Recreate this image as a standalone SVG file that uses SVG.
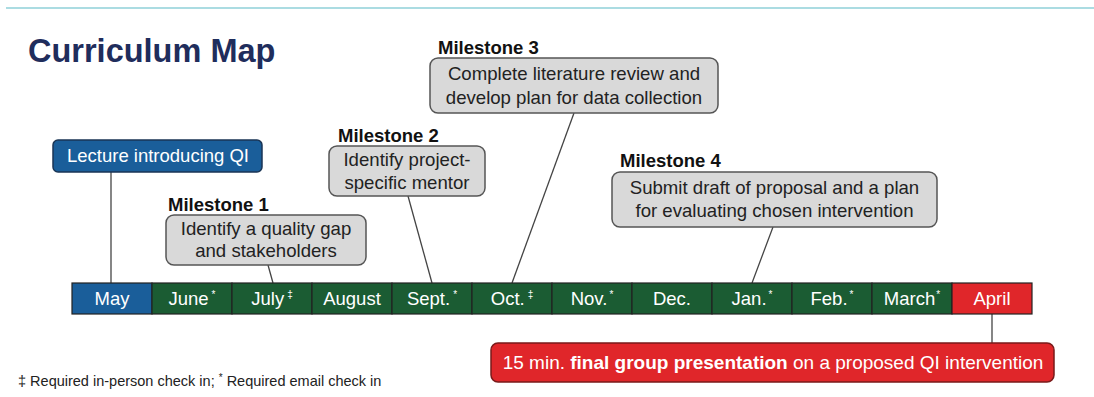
<svg xmlns="http://www.w3.org/2000/svg" width="1094" height="397" viewBox="0 0 1094 397">
<style>
  text { font-family: "Liberation Sans", Arial, sans-serif; }
  .title { font-size: 32.5px; font-weight: bold; fill: #1f2d5c; }
  .ms { font-size: 18.5px; font-weight: bold; fill: #111; }
  .gbox { fill: #d9d9d9; stroke: #555; stroke-width: 1.5; }
  .gtxt { font-size: 18.6px; fill: #222; text-anchor: middle; }
  .cell { stroke: #222; stroke-width: 1.2; }
  .blue { fill: #1a5e9a; }
  .green { fill: #1b5c33; }
  .red { fill: #e0262a; }
  .mtxt { font-size: 18.5px; fill: #fff; text-anchor: middle; }
  .sup { font-size: 10px; }
  .conn { stroke: #444; stroke-width: 1.3; fill: none; }
  .foot { font-size: 14.5px; fill: #222; }
</style>
<line x1="6" y1="8" x2="1094" y2="8" stroke="#8fd0d8" stroke-width="1.5"/>
<text class="title" x="28" y="62">Curriculum Map</text>

<g id="connectors">
  <line class="conn" x1="111" y1="172" x2="111" y2="283"/>
  <line class="conn" x1="268" y1="265" x2="273" y2="283"/>
  <line class="conn" x1="408" y1="196" x2="432" y2="283"/>
  <line class="conn" x1="574" y1="113" x2="512" y2="283"/>
  <line class="conn" x1="773" y1="227" x2="752" y2="283"/>
  <line class="conn" x1="992" y1="314" x2="992" y2="343"/>
</g>

<g id="lecture">
  <rect x="53" y="140" width="209" height="32" rx="5" class="blue" stroke="#1a3555" stroke-width="1.5"/>
  <text class="mtxt" x="158" y="162">Lecture introducing QI</text>
</g>

<g id="milestone1">
  <text class="ms" x="168" y="211">Milestone 1</text>
  <rect class="gbox" x="166" y="215" width="200" height="50" rx="8"/>
  <text class="gtxt" x="266" y="235">Identify a quality gap</text>
  <text class="gtxt" x="266" y="257">and stakeholders</text>
</g>

<g id="milestone2">
  <text class="ms" x="338" y="142">Milestone 2</text>
  <rect class="gbox" x="329" y="146" width="156" height="50" rx="8"/>
  <text class="gtxt" x="407" y="166">Identify project-</text>
  <text class="gtxt" x="407" y="189">specific mentor</text>
</g>

<g id="milestone3">
  <text class="ms" x="438" y="54">Milestone 3</text>
  <rect class="gbox" x="430" y="58" width="288" height="55" rx="8"/>
  <text class="gtxt" x="574" y="80">Complete literature review and</text>
  <text class="gtxt" x="574" y="104">develop plan for data collection</text>
</g>

<g id="milestone4">
  <text class="ms" x="620" y="167">Milestone 4</text>
  <rect class="gbox" x="612" y="172" width="325" height="55" rx="8"/>
  <text class="gtxt" x="774.5" y="194">Submit draft of proposal and a plan</text>
  <text class="gtxt" x="774.5" y="217">for evaluating chosen intervention</text>
</g>

<g id="timeline">
  <rect class="cell blue" x="72" y="283" width="80" height="31"/>
  <rect class="cell green" x="152" y="283" width="80" height="31"/>
  <rect class="cell green" x="232" y="283" width="80" height="31"/>
  <rect class="cell green" x="312" y="283" width="80" height="31"/>
  <rect class="cell green" x="392" y="283" width="80" height="31"/>
  <rect class="cell green" x="472" y="283" width="80" height="31"/>
  <rect class="cell green" x="552" y="283" width="80" height="31"/>
  <rect class="cell green" x="632" y="283" width="80" height="31"/>
  <rect class="cell green" x="712" y="283" width="80" height="31"/>
  <rect class="cell green" x="792" y="283" width="80" height="31"/>
  <rect class="cell green" x="872" y="283" width="80" height="31"/>
  <rect class="cell red" x="952" y="283" width="80" height="31"/>
  <text class="mtxt" x="112" y="305">May</text>
  <text class="mtxt" x="192" y="305">June<tspan class="sup" dx="3" dy="-7">*</tspan></text>
  <text class="mtxt" x="272" y="305">July<tspan class="sup" dx="3" dy="-7">‡</tspan></text>
  <text class="mtxt" x="352" y="305">August</text>
  <text class="mtxt" x="432" y="305">Sept.<tspan class="sup" dx="3" dy="-7">*</tspan></text>
  <text class="mtxt" x="512" y="305">Oct.<tspan class="sup" dx="3" dy="-7">‡</tspan></text>
  <text class="mtxt" x="592" y="305">Nov.<tspan class="sup" dx="2" dy="-7">*</tspan></text>
  <text class="mtxt" x="672" y="305">Dec.</text>
  <text class="mtxt" x="752" y="305">Jan.<tspan class="sup" dx="2" dy="-7">*</tspan></text>
  <text class="mtxt" x="832" y="305">Feb.<tspan class="sup" dx="2" dy="-7">*</tspan></text>
  <text class="mtxt" x="912" y="305">March<tspan class="sup" dx="1" dy="-7">*</tspan></text>
  <text class="mtxt" x="992" y="305">April</text>
</g>

<g id="presentation">
  <rect x="491" y="343" width="563" height="39" rx="7" class="red" stroke="#7a1a1a" stroke-width="1.5"/>
  <text class="mtxt" x="773" y="369" style="font-size:19px">15 min. <tspan font-weight="bold">final group presentation</tspan> on a proposed QI intervention</text>
</g>

<text class="foot" x="18" y="386">‡ Required in-person check in; <tspan class="sup" dy="-5">*</tspan><tspan dy="5"> Required email check in</tspan></text>
</svg>
